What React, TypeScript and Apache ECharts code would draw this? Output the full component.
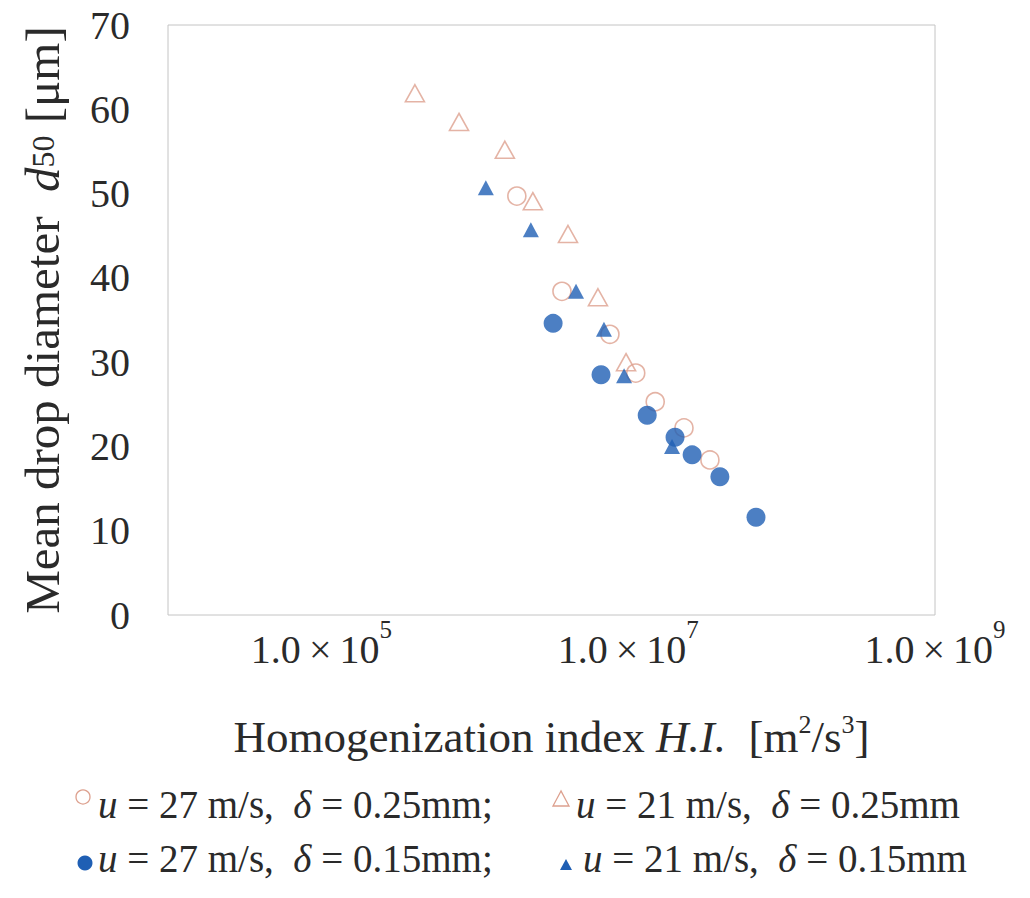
import React, { useEffect, useRef } from "react";
import * as echarts from "echarts";

// H.I. [m2/s3] vs d50 [um]
const openCircleHI = [1.88e6, 3.7e6, 7.6e6, 1.12e7, 1.5e7, 2.31e7, 3.41e7];
const openCircleD = [49.7, 38.4, 33.3, 28.7, 25.3, 22.2, 18.4];

const openTriHI = [4.07e5, 7.89e5, 1.57e6, 2.39e6, 4.05e6, 6.35e6, 9.68e6];
const openTriD = [61.9, 58.5, 55.2, 49.1, 45.2, 37.7, 30.0];

const filledCircleHI = [3.24e6, 6.65e6, 1.33e7, 2.02e7, 2.61e7, 3.96e7, 6.81e7];
const filledCircleD = [34.6, 28.5, 23.7, 21.1, 19.0, 16.4, 11.6];

const filledTriHI = [1.18e6, 2.32e6, 4.57e6, 6.95e6, 9.4e6, 1.93e7];
const filledTriD = [50.7, 45.7, 38.4, 33.9, 28.4, 20.0];

const yTicks = [0, 10, 20, 30, 40, 50, 60, 70];

const SALMON = "#dda08e";
const BLUE = "#1f5fb4";
const FONT = "'Liberation Serif', 'DejaVu Serif', serif";
const TEXT = "#2a2a2a";
const LEG_FS = 39;

const zip = (xs: number[], ys: number[]) => xs.map((x, i) => [x, ys[i]]);

export default function App() {
  const ref = useRef<HTMLDivElement>(null);
  useEffect(() => {
    if (!ref.current) return;
    const chart = echarts.init(ref.current, null, { renderer: "svg" });
    const legendRich = {
      i: { fontStyle: "italic", fontSize: LEG_FS, fontFamily: FONT, color: TEXT },
    };
    const legendText = (x: number, y: number, text: string) => ({
      type: "text",
      x,
      y,
      style: {
        text,
        fontFamily: FONT,
        fontSize: LEG_FS,
        fill: TEXT,
        verticalAlign: "middle",
        rich: legendRich,
      },
    });
    chart.setOption({
      animation: false,
      backgroundColor: "#ffffff",
      grid: {
        left: 168,
        right: 95,
        top: 25,
        bottom: 283,
        show: true,
        borderColor: "#c4c4c4",
        borderWidth: 1,
        backgroundColor: "transparent",
      },
      xAxis: {
        type: "log",
        logBase: 10,
        min: 1e4,
        max: 1e9,
        axisLine: { show: false },
        axisTick: { show: false },
        splitLine: { show: false },
        axisLabel: {
          margin: 2,
          fontFamily: FONT,
          fontSize: 40,
          color: TEXT,
          showMinLabel: true,
          showMaxLabel: true,
          formatter: (v: number) => {
            const e = Math.round(Math.log10(v));
            return e % 2 === 1 ? `1.0\u2009×\u200910{sup|${e}}` : "";
          },
          rich: {
            sup: { fontSize: 25, fontFamily: FONT, color: TEXT, verticalAlign: "top", padding: [0, 0, 40, 0] },
          },
        },
        name: "Homogenization index {i|H.I.}  [m{sup|2}/s{sup|3}]",
        nameLocation: "middle",
        nameGap: 96,
        nameTextStyle: {
          fontFamily: FONT,
          fontSize: 45,
          color: TEXT,
          rich: {
            i: { fontStyle: "italic", fontFamily: FONT, fontSize: 45, color: TEXT },
            sup: { fontSize: 26, fontFamily: FONT, color: TEXT, padding: [0, 0, 26, 0] },
          },
        },
      },
      yAxis: {
        type: "value",
        min: yTicks[0],
        max: yTicks[yTicks.length - 1],
        interval: 10,
        axisLine: { show: false },
        axisTick: { show: false },
        splitLine: { show: false },
        axisLabel: {
          margin: 38,
          fontFamily: FONT,
          fontSize: 40,
          color: TEXT,
        },
        name: "Mean drop diameter  {i|d}{sub|50} [μm]",
        nameLocation: "middle",
        nameRotate: 90,
        nameGap: 101,
        nameTextStyle: {
          fontFamily: FONT,
          fontSize: 49,
          color: TEXT,
          rich: {
            i: { fontStyle: "italic", fontFamily: FONT, fontSize: 49, color: TEXT },
            sub: { fontFamily: FONT, fontSize: 32, color: TEXT },
          },
        },
      },
      series: [
        {
          name: "u = 27 m/s, δ = 0.25mm",
          type: "scatter",
          symbol: "circle",
          symbolSize: 18,
          data: zip(openCircleHI, openCircleD),
          itemStyle: { color: "rgba(255,255,255,0)", borderColor: SALMON, borderWidth: 1.6 },
          z: 2,
        },
        {
          name: "u = 21 m/s, δ = 0.25mm",
          type: "scatter",
          symbol: "triangle",
          symbolSize: [19, 17],
          data: zip(openTriHI, openTriD),
          itemStyle: { color: "rgba(255,255,255,0)", borderColor: SALMON, borderWidth: 1.6 },
          z: 2,
        },
        {
          name: "u = 21 m/s, δ = 0.15mm",
          type: "scatter",
          symbol: "triangle",
          symbolSize: [16, 15],
          data: zip(filledTriHI, filledTriD),
          itemStyle: { color: BLUE },
          z: 3,
        },
        {
          name: "u = 27 m/s, δ = 0.15mm",
          type: "scatter",
          symbol: "circle",
          symbolSize: 19,
          data: zip(filledCircleHI, filledCircleD),
          itemStyle: { color: BLUE },
          z: 4,
        },
      ],
      graphic: [
        { type: "circle", shape: { cx: 83, cy: 797, r: 7 }, style: { fill: "none", stroke: SALMON, lineWidth: 1.3 } },
        legendText(98, 804, "{i|u} = 27 m/s,  {i|δ} = 0.25mm;"),
        {
          type: "polygon",
          shape: { points: [[561, 791], [553, 806], [569, 806]] },
          style: { fill: "none", stroke: SALMON, lineWidth: 1.3 },
        },
        legendText(576, 804, "{i|u} = 21 m/s,  {i|δ} = 0.25mm"),
        { type: "circle", shape: { cx: 85, cy: 863, r: 7.5 }, style: { fill: BLUE } },
        legendText(98, 858, "{i|u} = 27 m/s,  {i|δ} = 0.15mm;"),
        {
          type: "polygon",
          shape: { points: [[566, 859], [560, 870], [572, 870]] },
          style: { fill: BLUE },
        },
        legendText(583, 858, "{i|u} = 21 m/s,  {i|δ} = 0.15mm"),
      ],
    });
    return () => chart.dispose();
  }, []);
  return (
    <div
      ref={ref}
      style={{ position: "fixed", left: 0, top: 0, width: 1030, height: 898, background: "#fff" }}
    />
  );
}
